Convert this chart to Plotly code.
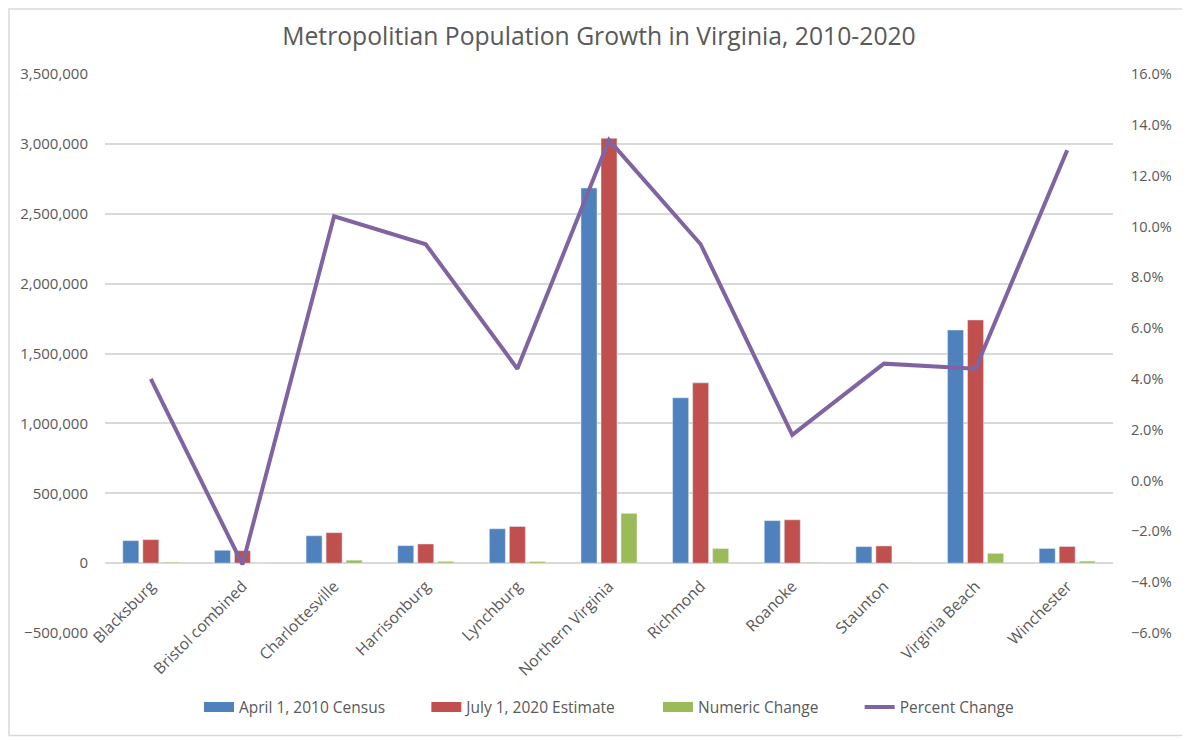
import plotly.graph_objects as go

categories = ["Blacksburg", "Bristol combined", "Charlottesville", "Harrisonburg",
              "Lynchburg", "Northern Virginia", "Richmond", "Roanoke", "Staunton",
              "Virginia Beach", "Winchester"]
census_2010 = [161000, 92000, 196000, 125000, 246000, 2684000, 1183000, 304000, 118000, 1668000, 105000]
estimate_2020 = [168000, 89000, 218000, 137000, 262000, 3040000, 1290000, 310000, 123000, 1740000, 119000]
numeric_change = [7000, -3000, 21000, 12000, 11000, 356000, 104000, 5600, 5500, 70000, 14000]
percent_change = [0.040, -0.033, 0.104, 0.093, 0.044, 0.134, 0.093, 0.018, 0.046, 0.044, 0.130]

series_names = ["April 1, 2010 Census", "July 1, 2020 Estimate", "Numeric Change", "Percent Change"]
series_colors = ["#4F81BD", "#C0504D", "#9BBB59", "#8064A2"]

left_range = [-500000, 3500000]
left_ticks = list(range(-500000, 3500001, 500000))
right_ticks = [x / 100 for x in range(-6, 17, 2)]

# page has an 8px body margin; figure sized to fit the 1190x740 window
W, H = 1182, 732
ML, MR, MT, MB = 97, 77, 66, 106.5
font_fam = "Open Sans, Liberation Sans, Arial, sans-serif"
txt = "#595959"

fig = go.Figure()
for vals, name, col in zip([census_2010, estimate_2020, numeric_change], series_names[:3], series_colors[:3]):
    fig.add_bar(x=categories, y=vals, name=name, marker_color=col, yaxis="y",
                showlegend=False)
fig.add_scatter(x=categories, y=percent_change, name=series_names[3], mode="lines",
                line=dict(color=series_colors[3], width=4), yaxis="y2", showlegend=False)

# legend entries (rectangular swatches like the original)
pad = "\u00a0" * 9
for i, (name, col, w) in enumerate(zip(series_names, series_colors, [10, 10, 10, 4])):
    fig.add_scatter(x=[None], y=[None], name=name + (pad if i < 3 else ""), mode="lines",
                    line=dict(color=col, width=w), showlegend=True, yaxis="y")

pw = W - ML - MR
ph = H - MT - MB
zero_pos = (0 - left_range[0]) / (left_range[1] - left_range[0])

fig.update_layout(
    width=W, height=H,
    margin=dict(l=ML, r=MR, t=MT, b=MB, autoexpand=False),
    paper_bgcolor="white", plot_bgcolor="white",
    font=dict(family=font_fam, color=txt, size=14),
    title=dict(text="Metropolitian Population Growth in Virginia, 2010-2020",
               x=0.5, xanchor="center", y=1 - 28 / H, yanchor="middle",
               font=dict(size=24.7, color=txt, family=font_fam)),
    barmode="group", bargap=0.345, bargroupgap=0.2,
    showlegend=True,
    legend=dict(orientation="h", x=0.5, xanchor="center", y=-(700 - (H - MB)) / ph,
                yanchor="middle", font=dict(size=15.5, color=txt),
                traceorder="normal", bgcolor="rgba(0,0,0,0)"),
    xaxis=dict(tickangle=-45, showgrid=False, showline=False, ticks="",
               anchor="free", position=zero_pos, ticklabelstandoff=10,
               tickfont=dict(size=15.7, color=txt)),
    yaxis=dict(range=left_range, tickvals=left_ticks, tickformat=",",
               showgrid=True, gridcolor="#D9D9D9", gridwidth=1.5,
               zeroline=True, zerolinecolor="#D9D9D9", zerolinewidth=1.5,
               showline=False, ticks="", tickfont=dict(size=15, color=txt),
               ticklabelstandoff=16),
    yaxis2=dict(range=[-0.06, 0.16], tickvals=right_ticks, tickformat=".1%",
                overlaying="y", side="right", showgrid=False, zeroline=False,
                showline=False, ticks="", tickfont=dict(size=14.5, color=txt),
                ticklabelstandoff=17),
)

# chart area border
fig.add_shape(type="rect", xref="paper", yref="paper",
              x0=(1 - ML) / pw, x1=(W - 4 - ML) / pw,
              y0=-(H - 4 - (H - MB)) / ph, y1=1 + (MT - 1) / ph,
              line=dict(color="#D9D9D9", width=1.5), fillcolor="rgba(0,0,0,0)", layer="below")

fig.write_html("out.html")
